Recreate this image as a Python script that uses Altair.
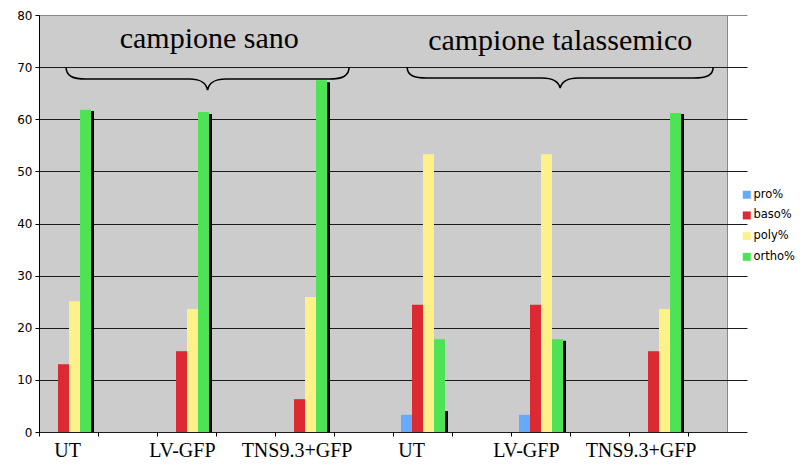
import altair as alt
import pandas as pd

# ---- data ----
categories = ["UT", "LV-GFP", "TNS9.3+GFP", "UT", "LV-GFP", "TNS9.3+GFP"]
series = ["pro%", "baso%", "poly%", "ortho%"]
pro = [0, 0, 0, 3.3, 3.3, 0]
baso = [13.0, 15.5, 6.3, 24.4, 24.4, 15.5]
poly = [25.1, 23.6, 25.9, 53.3, 53.3, 23.6]
ortho = [61.8, 61.4, 67.5, 17.8, 17.8, 61.2]
dark = [61.6, 61.0, 67.1, 4.0, 17.5, 61.0]   # black unlabeled series
group_titles = ["campione sano", "campione talassemico"]

colors = ["#66aaff", "#dd2a32", "#fff18a", "#4ee255"]

# slots: each category occupies every other slot of 12
slot_domain = [str(i) for i in range(12)]
cat_slots = [str(2 * i) for i in range(len(categories))]

rows = []
for i, s in enumerate(cat_slots):
    for name, vals in zip(series, [pro, baso, poly, ortho]):
        rows.append({"slot": s, "series": name, "value": vals[i]})
df = pd.DataFrame(rows)
df_dark = pd.DataFrame({"slot": cat_slots, "value": dark})
df_lab = pd.DataFrame({"slot": cat_slots, "label": categories, "value": [0] * len(categories)})

# annotation placement (group units 0..12 across the plot, y in data units)
ann_text = pd.DataFrame({"ax": [2.97, 9.09], "value": [73.6, 73.3], "t": group_titles})
brace_l = pd.DataFrame({"ax": [2.94], "value": [67.72]})
brace_r = pd.DataFrame({"ax": [9.09], "value": [67.91]})

W, H = 688, 417
yscale = alt.Scale(domain=[0, 80], nice=False, zero=True)
yaxis = alt.Axis(
    values=list(range(0, 81, 10)), title=None, labelFont="DejaVu Sans", labelFontSize=12,
    labelColor="black", tickColor="black", tickSize=4, labelPadding=3,
    domainColor="black", domainWidth=1, grid=True, gridWidth=1,
    gridColor={"condition": {"test": "datum.value === 80", "value": "#888888"}, "value": "#1a1a1a"},
)
xband = alt.Scale(domain=slot_domain, range=[0, 708], paddingInner=0, paddingOuter=0)

bars = alt.Chart(df).mark_bar().encode(
    x=alt.X("slot:N", scale=xband,
            axis=alt.Axis(labels=False, title=None, domain=False, ticks=True, tickColor="black",
                          tickSize=4, bandPosition=0, grid=False)),
    xOffset=alt.XOffset("series:N", scale=alt.Scale(domain=series, range=[8, 52], paddingInner=0, paddingOuter=0)),
    y=alt.Y("value:Q", scale=yscale, axis=yaxis),
    color=alt.Color("series:N", scale=alt.Scale(domain=series, range=colors),
                    legend=alt.Legend(title=None, orient="none", legendX=702, legendY=174,
                                      symbolType="square", symbolSize=64, symbolStrokeWidth=0,
                                      labelFont="DejaVu Sans", labelFontSize=11.5, labelColor="black",
                                      rowPadding=7.7, labelOffset=1, padding=0)),
)

shadow = alt.Chart(df_dark).mark_bar(width=3, xOffset=24, color="black").encode(
    x=alt.X("slot:N", scale=xband, axis=None),
    y=alt.Y("value:Q", scale=yscale, axis=yaxis),
)

labels = alt.Chart(df_lab).mark_text(
    font="Liberation Serif", fontSize=20, baseline="alphabetic", align="center", dy=25, color="black"
).encode(
    x=alt.X("slot:N", scale=alt.Scale(domain=slot_domain, paddingInner=0, paddingOuter=0), axis=None),
    y=alt.Y("value:Q", scale=yscale, axis=yaxis),
    text="label:N",
)

axq = alt.Scale(domain=[0, 12], nice=False, zero=False)
titles = alt.Chart(ann_text).mark_text(
    font="Liberation Serif", fontSize=30, baseline="alphabetic", align="center", color="black"
).encode(
    x=alt.X("ax:Q", scale=axq, axis=None),
    y=alt.Y("value:Q", scale=yscale, axis=yaxis),
    text="t:N",
)

path_l = ("M-1,-0.085 C-1,-0.02 -0.95,0 -0.86,0 L-0.13,0 C-0.04,0 -0.01,0.03 0,0.078 "
          "C0.01,0.03 0.04,0 0.13,0 L0.86,0 C0.95,0 1,-0.02 1,-0.085")
path_r = ("M-1,-0.072 C-1,-0.017 -0.955,0 -0.87,0 L-0.12,0 C-0.04,0 -0.01,0.025 0,0.065 "
          "C0.01,0.025 0.04,0 0.12,0 L0.87,0 C0.955,0 1,-0.017 1,-0.072")

br_l = alt.Chart(brace_l).mark_point(shape=path_l, size=283 ** 2, filled=False, stroke="black",
                                     strokeWidth=1.6, opacity=1).encode(
    x=alt.X("ax:Q", scale=axq, axis=None),
    y=alt.Y("value:Q", scale=yscale, axis=yaxis),
)
br_r = alt.Chart(brace_r).mark_point(shape=path_r, size=306 ** 2, filled=False, stroke="black",
                                     strokeWidth=1.6, opacity=1).encode(
    x=alt.X("ax:Q", scale=axq, axis=None),
    y=alt.Y("value:Q", scale=yscale, axis=yaxis),
)

chart = alt.layer(bars, shadow, labels, titles, br_l, br_r).resolve_scale(
    x="independent"
).properties(
    width=W, height=H,
    autosize=alt.AutoSizeParams(type="none"),
    padding={"left": 31, "top": 7, "right": 69, "bottom": 30},
    background="white",
).configure_view(fill="#cccccc", stroke="#888888", strokeWidth=1)

chart.save("out.html", embed_options={"renderer": "svg", "actions": False})
